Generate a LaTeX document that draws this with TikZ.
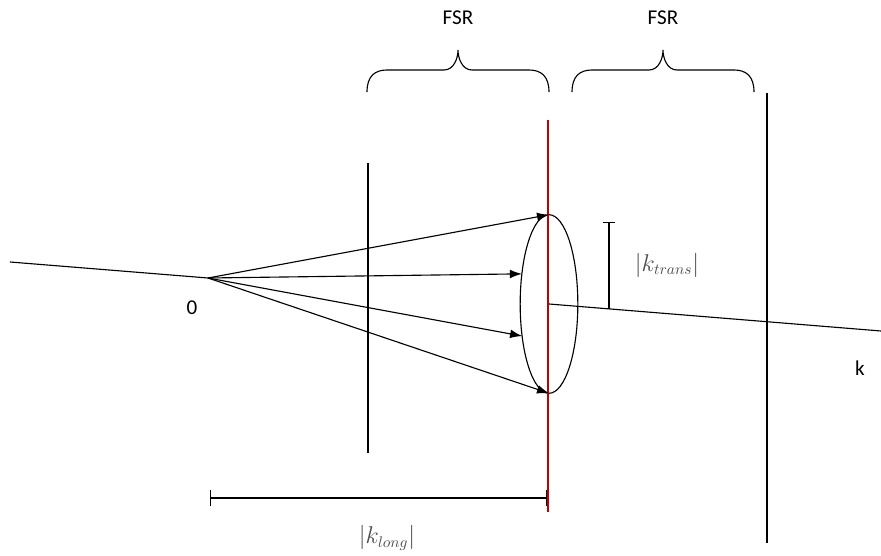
\documentclass[tikz,border=0pt]{standalone}
\usepackage{fontspec}
\setmainfont{Carlito}
\usetikzlibrary{arrows.meta,shapes.geometric}

\begin{document}
\begin{tikzpicture}[x=0.025cm, y=-0.025cm, every node/.style={font=\fontsize{15}{17}\selectfont}, >={Latex[length=3mm,width=2.2mm]},
	mirror/.style={line width=1.8pt}, ray/.style={line width=0.8pt}, magn/.style={black!70, font=\fontsize{16}{19}\selectfont}]
	\useasboundingbox (0,0) rectangle (881,556);
	% k axis and origin
	\coordinate (kin) at (10,262);
	\coordinate (O) at (208,278);
	\coordinate (kout) at (881,331);
	\node[draw, ellipse, line width=0.8pt, inner sep=0pt, outer sep=0pt, minimum width=41pt, minimum height=127pt] (ell) at (549,304) {};
	\draw[ray] (kin) -- (O);
	\draw[ray] (ell.center) -- (kout);
	\node (zero) at (192,308) {0};
	\node (k) at (860,368) {k};
	% mirrors
	\coordinate (m1t) at (368,163); \coordinate (m1b) at (368,453);
	\coordinate (m2t) at (548,120); \coordinate (m2b) at (548,512);
	\coordinate (m3t) at (767,93);  \coordinate (m3b) at (767,543);
	\draw[mirror] (m1t) -- (m1b);
	\draw[mirror, red!75!black] (m2t) -- (m2b);
	\draw[mirror] (m3t) -- (m3b);
	% rays to the ring
	\foreach \a in {90,132,230,270}
		\draw[ray, ->] (O) -- (ell.\a);
	% FSR braces
	\foreach \x in {367,572}
		\draw[ray] (\x,92) .. controls +(0,-16) and +(-12,0) .. ++(20,-22) -- ++(57,0)
			.. controls +(10,0) and +(0,8) .. ++(14,-20) .. controls +(0,8) and +(-10,0) .. ++(14,20)
			-- ++(57,0) .. controls +(12,0) and +(0,-16) .. ++(20,22);
	\node (fsrA) at (458,18) {FSR};
	\node (fsrB) at (663,18) {FSR};
	% magnitudes
	\coordinate (ktt) at (609,222); \coordinate (ktb) at (609,309);
	\draw[ray, {Bar[width=9pt]}-] (ktt) -- (ktb);
	\node[magn] (ktrans) at (667,265) {$|k_{trans}|$};
	\coordinate (kla) at (210,498); \coordinate (klb) at (547,498);
	\draw[ray, {Bar[width=11pt]}-{Bar[width=11pt]}] (kla) -- (klb);
	\node[magn] (klong) at (387,538) {$|k_{long}|$};
\end{tikzpicture}
\end{document}
